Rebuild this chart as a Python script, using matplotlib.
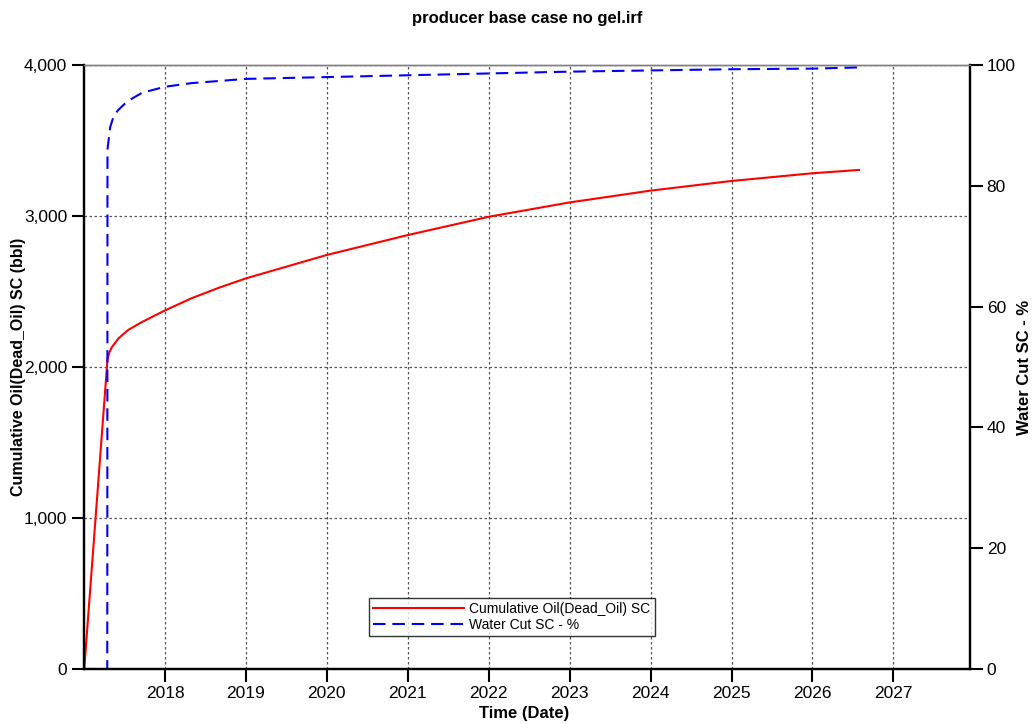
import matplotlib
matplotlib.use("Agg")
import matplotlib.pyplot as plt
import matplotlib.dates as mdates
import numpy as np
import pandas as pd

plt.rcParams['font.family'] = ['Liberation Sans', 'DejaVu Sans']

# Cumulative oil production (bbl)
oil_dates = ['2017-01-01', '2017-04-16', '2017-04-24', '2017-05-06', '2017-06-05',
             '2017-07-18', '2017-09-15', '2017-11-17', '2018-01-01', '2018-04-30',
             '2018-09-01', '2019-01-01', '2020-01-01', '2021-01-01', '2022-01-01',
             '2023-01-01', '2024-01-01', '2025-01-01', '2026-01-01', '2026-07-30']
oil_values = [0, 2050, 2095, 2132, 2190, 2245, 2295, 2342, 2375, 2455,
              2525, 2587, 2742, 2874, 2995, 3090, 3168, 3232, 3283, 3305]

# Water cut (%)
wc_dates = ['2017-01-01', '2017-04-15', '2017-04-16', '2017-04-28', '2017-05-12',
            '2017-06-02', '2017-07-15', '2017-09-19', '2018-01-01', '2018-04-30',
            '2019-01-01', '2020-01-01', '2021-01-01', '2022-01-01', '2023-01-01',
            '2024-01-01', '2025-01-01', '2026-01-01', '2026-07-30']
wc_values = [0, 0, 86.0, 89.7, 91.3, 92.5, 94.0, 95.4, 96.4, 97.0,
             97.7, 98.0, 98.3, 98.6, 98.9, 99.1, 99.3, 99.4, 99.6]

series_labels = ['Cumulative Oil(Dead_Oil) SC', 'Water Cut SC - %']
title = 'producer base case no gel.irf'

oil_t = pd.to_datetime(oil_dates)
wc_t = pd.to_datetime(wc_dates)

fig = plt.figure(figsize=(10.34, 7.24), dpi=100)
ax = fig.add_axes([84 / 1034, 55 / 724, 886 / 1034, 604 / 724])
ax2 = ax.twinx()

l1, = ax.plot(oil_t, oil_values, color='#ff0000', lw=1.5, solid_joinstyle='round')
l2, = ax2.plot(wc_t, wc_values, color='#0000ff', lw=1.5, dashes=(6, 3.3))

ax.set_xlim(pd.Timestamp('2016-12-31'), pd.Timestamp('2027-12-13'))
ax.set_ylim(0, 4000)
ax2.set_ylim(0, 100)

years = pd.date_range('2018-01-01', '2027-01-01', freq='YS')
ax.set_xticks(years)
ax.xaxis.set_major_formatter(mdates.DateFormatter('%Y'))
ax.set_yticks([0, 1000, 2000, 3000, 4000])
ax.yaxis.set_major_formatter(matplotlib.ticker.FuncFormatter(lambda v, p: f'{int(v):,}'))
ax2.set_yticks([0, 20, 40, 60, 80, 100])

for a in (ax, ax2):
    a.tick_params(direction='out', length=9, width=1.5, labelsize=12.5, colors='black', pad=3)
    for side in ('left', 'right', 'bottom'):
        a.spines[side].set_linewidth(1.6)
        a.spines[side].set_color('black')
    a.spines['top'].set_color('#808080')
    a.spines['top'].set_linewidth(1.0)

ax.grid(True, which='major', linestyle=(0, (2, 2)), color='#555555', linewidth=0.9)

ax.set_xlabel('Time (Date)', fontsize=12, fontweight='bold')
ax.xaxis.set_label_coords(0.497, -0.062)
ax.set_ylabel('Cumulative Oil(Dead_Oil) SC (bbl)', fontsize=11.5, fontweight='bold')
ax.yaxis.set_label_coords(-0.065, 0.5)
ax2.set_ylabel('Water Cut SC - %', fontsize=12, fontweight='bold')
ax2.yaxis.set_label_coords(1.053, 0.5)

ax.set_title(title, fontsize=12, fontweight='bold', pad=30)

leg = ax2.legend([l1, l2], series_labels, loc='lower center', bbox_to_anchor=(0.483, 0.054),
                 fontsize=10, frameon=True, fancybox=False, shadow=False,
                 handlelength=6.5, borderpad=0.3, labelspacing=0.15, handletextpad=0.4,
                 borderaxespad=0)
leg.get_frame().set_edgecolor('black')
leg.get_frame().set_linewidth(1.0)

fig.savefig('out.png', dpi=100)
